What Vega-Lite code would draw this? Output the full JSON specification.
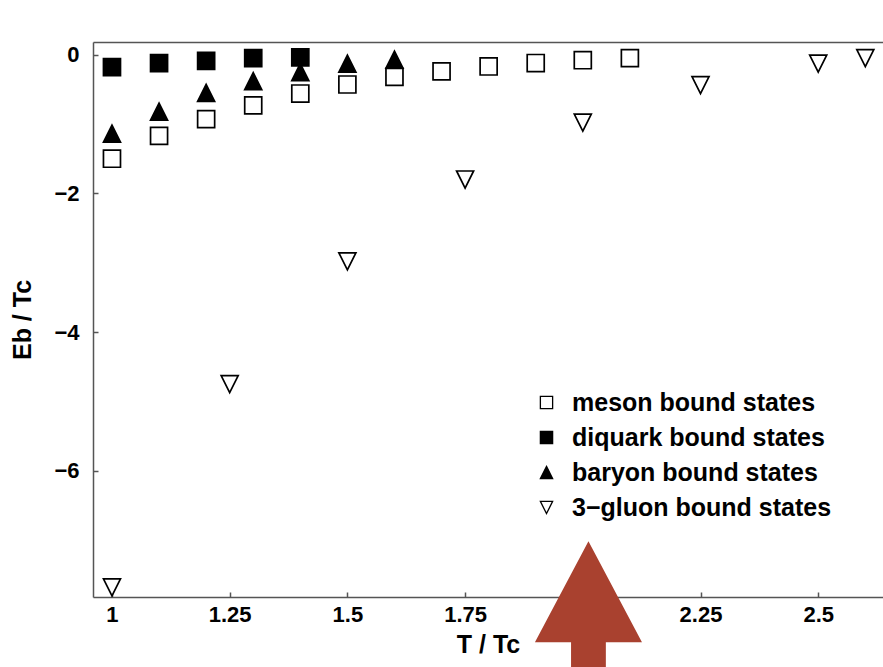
{
  "$schema": "https://vega.github.io/schema/vega-lite/v6.json",
  "width": 790,
  "height": 555,
  "autosize": {"type": "none"},
  "padding": {"left": 93, "top": 42, "right": 0, "bottom": 70},
  "background": "white",
  "config": {
    "view": {"stroke": null},
    "font": "Liberation Sans",
    "axis": {
      "grid": false,
      "domainColor": "#555",
      "domainWidth": 1.5,
      "tickColor": "#555",
      "tickWidth": 1.5,
      "tickSize": -5,
      "labelFont": "Liberation Sans",
      "labelFontSize": 22,
      "labelFontWeight": "bold",
      "labelColor": "black",
      "titleFont": "Liberation Sans",
      "titleFontSize": 25,
      "titleFontWeight": "bold",
      "titleColor": "black"
    }
  },
  "datasets": {
    "points": [
      {"T": 1.0, "Eb": -1.14, "series": "baryon bound states"},
      {"T": 1.1, "Eb": -0.82, "series": "baryon bound states"},
      {"T": 1.2, "Eb": -0.55, "series": "baryon bound states"},
      {"T": 1.3, "Eb": -0.38, "series": "baryon bound states"},
      {"T": 1.4, "Eb": -0.25, "series": "baryon bound states"},
      {"T": 1.5, "Eb": -0.13, "series": "baryon bound states"},
      {"T": 1.6, "Eb": -0.07, "series": "baryon bound states"},
      {"T": 1.0, "Eb": -1.50, "series": "meson bound states"},
      {"T": 1.1, "Eb": -1.17, "series": "meson bound states"},
      {"T": 1.2, "Eb": -0.93, "series": "meson bound states"},
      {"T": 1.3, "Eb": -0.73, "series": "meson bound states"},
      {"T": 1.4, "Eb": -0.56, "series": "meson bound states"},
      {"T": 1.5, "Eb": -0.43, "series": "meson bound states"},
      {"T": 1.6, "Eb": -0.32, "series": "meson bound states"},
      {"T": 1.7, "Eb": -0.24, "series": "meson bound states"},
      {"T": 1.8, "Eb": -0.17, "series": "meson bound states"},
      {"T": 1.9, "Eb": -0.12, "series": "meson bound states"},
      {"T": 2.0, "Eb": -0.08, "series": "meson bound states"},
      {"T": 2.1, "Eb": -0.05, "series": "meson bound states"},
      {"T": 1.0, "Eb": -0.18, "series": "diquark bound states"},
      {"T": 1.1, "Eb": -0.12, "series": "diquark bound states"},
      {"T": 1.2, "Eb": -0.09, "series": "diquark bound states"},
      {"T": 1.3, "Eb": -0.05, "series": "diquark bound states"},
      {"T": 1.4, "Eb": -0.04, "series": "diquark bound states"},
      {"T": 1.0, "Eb": -7.68, "series": "3−gluon bound states"},
      {"T": 1.25, "Eb": -4.75, "series": "3−gluon bound states"},
      {"T": 1.5, "Eb": -2.98, "series": "3−gluon bound states"},
      {"T": 1.75, "Eb": -1.80, "series": "3−gluon bound states"},
      {"T": 2.0, "Eb": -0.98, "series": "3−gluon bound states"},
      {"T": 2.25, "Eb": -0.44, "series": "3−gluon bound states"},
      {"T": 2.5, "Eb": -0.13, "series": "3−gluon bound states"},
      {"T": 2.6, "Eb": -0.05, "series": "3−gluon bound states"}
    ],
    "arrow": [{"T": 2.012, "Eb": -7.88}]
  },
  "encoding": {
    "y": {
      "field": "Eb",
      "type": "quantitative",
      "scale": {"domain": [-7.82, 0.183], "nice": false, "zero": false},
      "axis": {
        "values": [0, -2, -4, -6],
        "format": ".3~g",
        "title": "Eb / Tc",
        "titlePadding": 18,
        "labelPadding": 19
      }
    }
  },
  "layer": [
    {
      "data": {"name": "points"},
      "mark": {"type": "point", "filled": true, "strokeWidth": 1.7, "opacity": 1, "size": 290},
      "encoding": {
        "x": {
          "field": "T",
          "type": "quantitative",
          "scale": {"domain": [0.9597, 2.6376], "nice": false, "zero": false},
          "axis": {
            "orient": "bottom",
            "values": [1, 1.25, 1.5, 1.75, 2, 2.25, 2.5],
            "format": ".3~g",
            "title": "T / Tc",
            "labelPadding": 12,
            "titlePadding": 7
          }
        },
        "shape": {
          "field": "series",
          "type": "nominal",
          "scale": {
            "domain": ["meson bound states", "diquark bound states", "baryon bound states", "3−gluon bound states"],
            "range": ["square", "square", "M0,-1L1,1L-1,1Z", "M-1,-1L1,-1L0,1Z"]
          },
          "legend": {
            "orient": "none", "legendX": 441, "legendY": 348, "title": null,
            "labelFont": "Liberation Sans", "labelFontSize": 25, "labelFontWeight": "bold", "labelColor": "black", "labelLimit": 500,
            "symbolSize": 150, "symbolStrokeWidth": 1.3, "rowPadding": 9, "labelOffset": 13
          }
        },
        "fill": {
          "field": "series",
          "type": "nominal",
          "scale": {
            "domain": ["meson bound states", "diquark bound states", "baryon bound states", "3−gluon bound states"],
            "range": ["white", "black", "black", "white"]
          },
          "legend": {
            "orient": "none", "legendX": 441, "legendY": 348, "title": null,
            "labelFont": "Liberation Sans", "labelFontSize": 25, "labelFontWeight": "bold", "labelColor": "black", "labelLimit": 500,
            "symbolSize": 150, "symbolStrokeWidth": 1.3, "rowPadding": 9, "labelOffset": 13
          }
        },
        "stroke": {
          "field": "series",
          "type": "nominal",
          "scale": {
            "domain": ["meson bound states", "diquark bound states", "baryon bound states", "3−gluon bound states"],
            "range": ["black", "black", "black", "black"]
          },
          "legend": {
            "orient": "none", "legendX": 441, "legendY": 348, "title": null,
            "labelFont": "Liberation Sans", "labelFontSize": 25, "labelFontWeight": "bold", "labelColor": "black", "labelLimit": 500,
            "symbolSize": 150, "symbolStrokeWidth": 1.3, "rowPadding": 9, "labelOffset": 13
          }
        }
      }
    },
    {
      "data": {"name": "arrow"},
      "mark": {
        "type": "point",
        "shape": "M0,-1L0.892,0.683L0.29,0.683L0.29,1.3L-0.29,1.3L-0.29,0.683L-0.892,0.683Z",
        "size": 14400,
        "filled": true,
        "fill": "#A9412F",
        "strokeWidth": 0,
        "opacity": 1
      },
      "encoding": {
        "x": {
          "field": "T",
          "type": "quantitative",
          "axis": {"orient": "top", "labels": false, "ticks": false, "title": null, "domain": true}
        }
      }
    }
  ],
  "resolve": {"axis": {"x": "independent"}}
}
